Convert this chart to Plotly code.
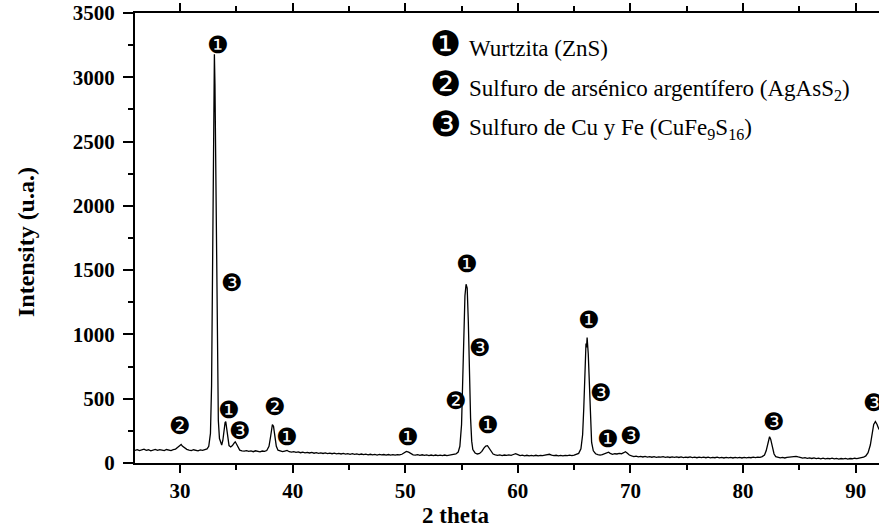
import plotly.graph_objects as go

# XRD pattern (2 theta, intensity)
two_theta = [
    26.0, 26.2, 26.4, 26.6, 26.8, 27.0, 27.2, 27.4, 27.6, 27.8, 28.0, 28.2, 28.4, 28.6, 28.8, 29.0, 29.2, 29.4, 29.6,
    29.8, 30.0, 30.1, 30.2, 30.4, 30.6, 30.8, 31.0, 31.2, 31.4, 31.6, 31.8, 32.0, 32.2, 32.4, 32.55, 32.7, 32.8, 32.9,
    33.0, 33.05, 33.1, 33.2, 33.3, 33.4, 33.5, 33.6, 33.7, 33.8, 33.9, 34.0, 34.06, 34.15, 34.25, 34.35, 34.5, 34.65,
    34.8, 34.9, 35.0, 35.15, 35.3, 35.5, 35.7, 35.9, 36.1, 36.3, 36.5, 36.7, 36.9, 37.1, 37.3, 37.5, 37.7, 37.9, 38.05,
    38.2, 38.3, 38.4, 38.55, 38.7, 38.9, 39.1, 39.3, 39.5, 39.7, 39.9, 40.1, 40.3, 40.5, 40.7, 40.9, 41.1, 41.3, 41.5,
    41.7, 41.9, 42.1, 42.3, 42.5, 42.7, 42.9, 43.1, 43.3, 43.5, 43.7, 43.9, 44.1, 44.3, 44.5, 44.7, 44.9, 45.1, 45.3,
    45.5, 45.7, 45.9, 46.1, 46.3, 46.5, 46.7, 46.9, 47.1, 47.3, 47.5, 47.7, 47.9, 48.1, 48.3, 48.5, 48.7, 48.9, 49.1,
    49.3, 49.5, 49.7, 49.9, 50.1, 50.3, 50.5, 50.7, 50.9, 51.1, 51.3, 51.5, 51.7, 51.9, 52.1, 52.3, 52.5, 52.7, 52.9,
    53.1, 53.3, 53.5, 53.7, 53.9, 54.1, 54.3, 54.5, 54.7, 54.85, 55.0, 55.1, 55.2, 55.3, 55.4, 55.5, 55.6, 55.7, 55.8,
    55.9, 56.0, 56.2, 56.4, 56.6, 56.8, 57.0, 57.15, 57.3, 57.45, 57.6, 57.8, 58.0, 58.2, 58.4, 58.6, 58.8, 59.0, 59.2,
    59.4, 59.6, 59.8, 60.0, 60.2, 60.4, 60.6, 60.8, 61.0, 61.2, 61.4, 61.6, 61.8, 62.0, 62.2, 62.4, 62.6, 62.8, 63.0,
    63.2, 63.4, 63.6, 63.8, 64.0, 64.2, 64.4, 64.6, 64.8, 65.0, 65.2, 65.4, 65.6, 65.75, 65.85, 65.95, 66.05, 66.1,
    66.15, 66.25, 66.35, 66.45, 66.55, 66.7, 66.9, 67.1, 67.3, 67.5, 67.7, 67.9, 68.05, 68.2, 68.4, 68.6, 68.8, 69.0,
    69.2, 69.4, 69.55, 69.7, 69.9, 70.1, 70.3, 70.5, 70.7, 70.9, 71.1, 71.3, 71.5, 71.7, 71.9, 72.1, 72.3, 72.5, 72.7,
    72.9, 73.1, 73.3, 73.5, 73.7, 73.9, 74.1, 74.3, 74.5, 74.7, 74.9, 75.1, 75.3, 75.5, 75.7, 75.9, 76.1, 76.3, 76.5,
    76.7, 76.9, 77.1, 77.3, 77.5, 77.7, 77.9, 78.1, 78.3, 78.5, 78.7, 78.9, 79.1, 79.3, 79.5, 79.7, 79.9, 80.1, 80.3,
    80.5, 80.7, 80.9, 81.1, 81.3, 81.5, 81.7, 81.9, 82.05, 82.2, 82.35, 82.45, 82.6, 82.75, 82.9, 83.1, 83.3, 83.5,
    83.7, 83.9, 84.1, 84.3, 84.5, 84.7, 84.9, 85.1, 85.3, 85.5, 85.7, 85.9, 86.1, 86.3, 86.5, 86.7, 86.9, 87.1, 87.3,
    87.5, 87.7, 87.9, 88.1, 88.3, 88.5, 88.7, 88.9, 89.1, 89.3, 89.5, 89.7, 89.9, 90.1, 90.3, 90.5, 90.7, 90.9, 91.1,
    91.3, 91.45, 91.6, 91.75, 91.9, 92.07,
]
intensity = [
    98, 104, 96, 102, 107, 99, 103, 95, 101, 106, 98, 104, 100, 96, 105, 101, 97, 104, 108,
    122, 140, 144, 132, 115, 106, 100, 96, 103, 99, 95, 102, 98, 104, 110, 130, 230, 600, 1500,
    2700, 3180, 2950, 1900, 800, 330, 190, 155, 140, 175, 260, 315, 322, 270, 180, 135, 125, 135,
    155, 165, 150, 118, 100, 95, 92, 96, 90, 94, 88, 95, 91, 87, 93, 90, 97, 130, 210,
    298, 285, 210, 130, 100, 92, 88, 93, 98, 88, 85, 89, 83, 86, 80, 85, 79, 83, 78,
    82, 76, 80, 75, 79, 74, 78, 73, 77, 72, 76, 71, 75, 70, 74, 69, 73, 68, 72,
    67, 71, 66, 70, 65, 69, 64, 68, 63, 67, 62, 67, 63, 66, 61, 66, 62, 65, 61,
    65, 63, 68, 80, 90, 85, 72, 64, 61, 65, 60, 64, 59, 63, 58, 62, 57, 62, 58,
    61, 57, 62, 58, 61, 60, 64, 70, 85, 130, 300, 600, 1000, 1300, 1390, 1360, 1100, 700, 350,
    170, 105, 78, 70, 74, 90, 118, 132, 135, 115, 88, 70, 64, 60, 63, 58, 62, 59, 63,
    60, 66, 72, 65, 58, 61, 56, 60, 55, 59, 56, 60, 55, 59, 57, 61, 63, 68, 62,
    57, 60, 55, 59, 56, 60, 57, 61, 58, 62, 66, 75, 110, 220, 420, 700, 930, 900,
    975, 850, 560, 300, 160, 95, 72, 66, 62, 65, 70, 78, 84, 75, 68, 72, 70, 75,
    72, 80, 88, 78, 62, 55, 50, 53, 48, 52, 47, 51, 46, 50, 45, 49, 44, 48, 45,
    49, 44, 48, 43, 47, 44, 48, 43, 47, 42, 46, 43, 47, 42, 46, 41, 45, 42, 46,
    41, 45, 40, 44, 41, 45, 40, 44, 39, 43, 40, 44, 39, 43, 40, 44, 39, 43, 40,
    44, 41, 45, 42, 46, 44, 50, 62, 95, 160, 204, 185, 120, 70, 50, 44, 40, 43,
    39, 44, 46, 50, 48, 52, 47, 42, 38, 41, 36, 40, 35, 39, 34, 38, 33, 37, 32,
    36, 33, 37, 32, 36, 31, 35, 32, 36, 31, 35, 33, 37, 34, 38, 40, 45, 55, 80,
    140, 230, 300, 322, 300, 260,
]

# Phase markers placed above the peaks (1 = ZnS, 2 = AgAsS2, 3 = CuFe9S16)
marker_x = [33.35, 34.6, 30.0, 34.36, 35.33, 38.44, 39.48, 50.27, 54.53, 55.48, 56.67, 57.35,
            66.36, 67.4, 67.98, 70.06, 82.74, 91.63]
marker_y = [3255, 1402, 291, 413, 252, 434, 205, 205, 484, 1545, 895, 296,
            1110, 544, 187, 213, 317, 465]
marker_phase = [1, 3, 2, 1, 3, 2, 1, 1, 2, 1, 3, 1, 1, 3, 1, 3, 3, 3]

legend_labels = [
    "Wurtzita (ZnS)",
    "Sulfuro de arsénico argentífero (AgAsS<sub>2</sub>)",
    "Sulfuro de Cu y Fe (CuFe<sub>9</sub>S<sub>16</sub>)",
]
legend_y = [3221, 2904, 2597]

x_ticks = [30, 40, 50, 60, 70, 80, 90]
y_ticks = [0, 500, 1000, 1500, 2000, 2500, 3000, 3500]

glyph = {1: "\u2776", 2: "\u2777", 3: "\u2778"}

fig = go.Figure()
fig.add_trace(go.Scatter(x=two_theta, y=intensity, mode="lines",
                         line=dict(color="black", width=1.3), showlegend=False,
                         hoverinfo="x+y"))

annotations = []
for mx, my, ph in zip(marker_x, marker_y, marker_phase):
    annotations.append(dict(x=mx, y=my, xref="x", yref="y", text=glyph[ph], showarrow=False,
                            font=dict(family="DejaVu Sans", size=24, color="black"),
                            xanchor="center", yanchor="middle"))

for i, (lab, ly) in enumerate(zip(legend_labels, legend_y)):
    annotations.append(dict(x=53.56, y=ly + 40, xref="x", yref="y", text=glyph[i + 1], showarrow=False,
                            font=dict(family="DejaVu Sans", size=35, color="black"),
                            xanchor="center", yanchor="middle"))
    annotations.append(dict(x=55.5, y=ly, xref="x", yref="y", text=lab, showarrow=False,
                            font=dict(family="Liberation Serif", size=23, color="black"),
                            xanchor="left", yanchor="middle"))

title_font = dict(family="Liberation Serif", size=24, color="black", weight="bold")
annotations.append(dict(x=0.431, y=-0.117, xref="paper", yref="paper", text="2 theta", showarrow=False,
                        font=dict(family="Liberation Serif", size=23, color="black", weight="bold"),
                        xanchor="center", yanchor="middle"))
annotations.append(dict(x=-0.1465, y=0.491, xref="paper", yref="paper", text="Intensity (u.a.)",
                        showarrow=False, textangle=-90, font=title_font,
                        xanchor="center", yanchor="middle"))

axis_font = dict(family="Liberation Serif", size=21, color="black", weight="bold")
fig.update_layout(
    width=879, height=529,
    margin=dict(l=135, r=0, t=13, b=66, autoexpand=False),
    paper_bgcolor="white", plot_bgcolor="white",
    annotations=annotations,
    xaxis=dict(range=[26, 92.07], tickvals=x_ticks, ticks="outside", ticklen=8, tickwidth=2,
               tickcolor="black", showline=True, linewidth=2, linecolor="black", mirror="ticks",
               showgrid=False, zeroline=False, tickfont=axis_font, automargin=False,
               minor=dict(dtick=5, tick0=0, ticks="outside", ticklen=5, tickwidth=2, tickcolor="black", showgrid=False)),
    yaxis=dict(range=[0, 3500], tickvals=y_ticks, ticks="outside", ticklen=10, tickwidth=2,
               tickcolor="black", showline=True, linewidth=2, linecolor="black", mirror=False,
               showgrid=False, zeroline=False, tickfont=axis_font, automargin=False,
               ticklabelstandoff=4,
               minor=dict(dtick=250, tick0=0, ticks="outside", ticklen=5, tickwidth=2, tickcolor="black", showgrid=False)),
)

fig.write_html("out.html", config={"displayModeBar": False},
               post_script="document.body.style.margin='0';document.body.style.overflow='hidden';")
